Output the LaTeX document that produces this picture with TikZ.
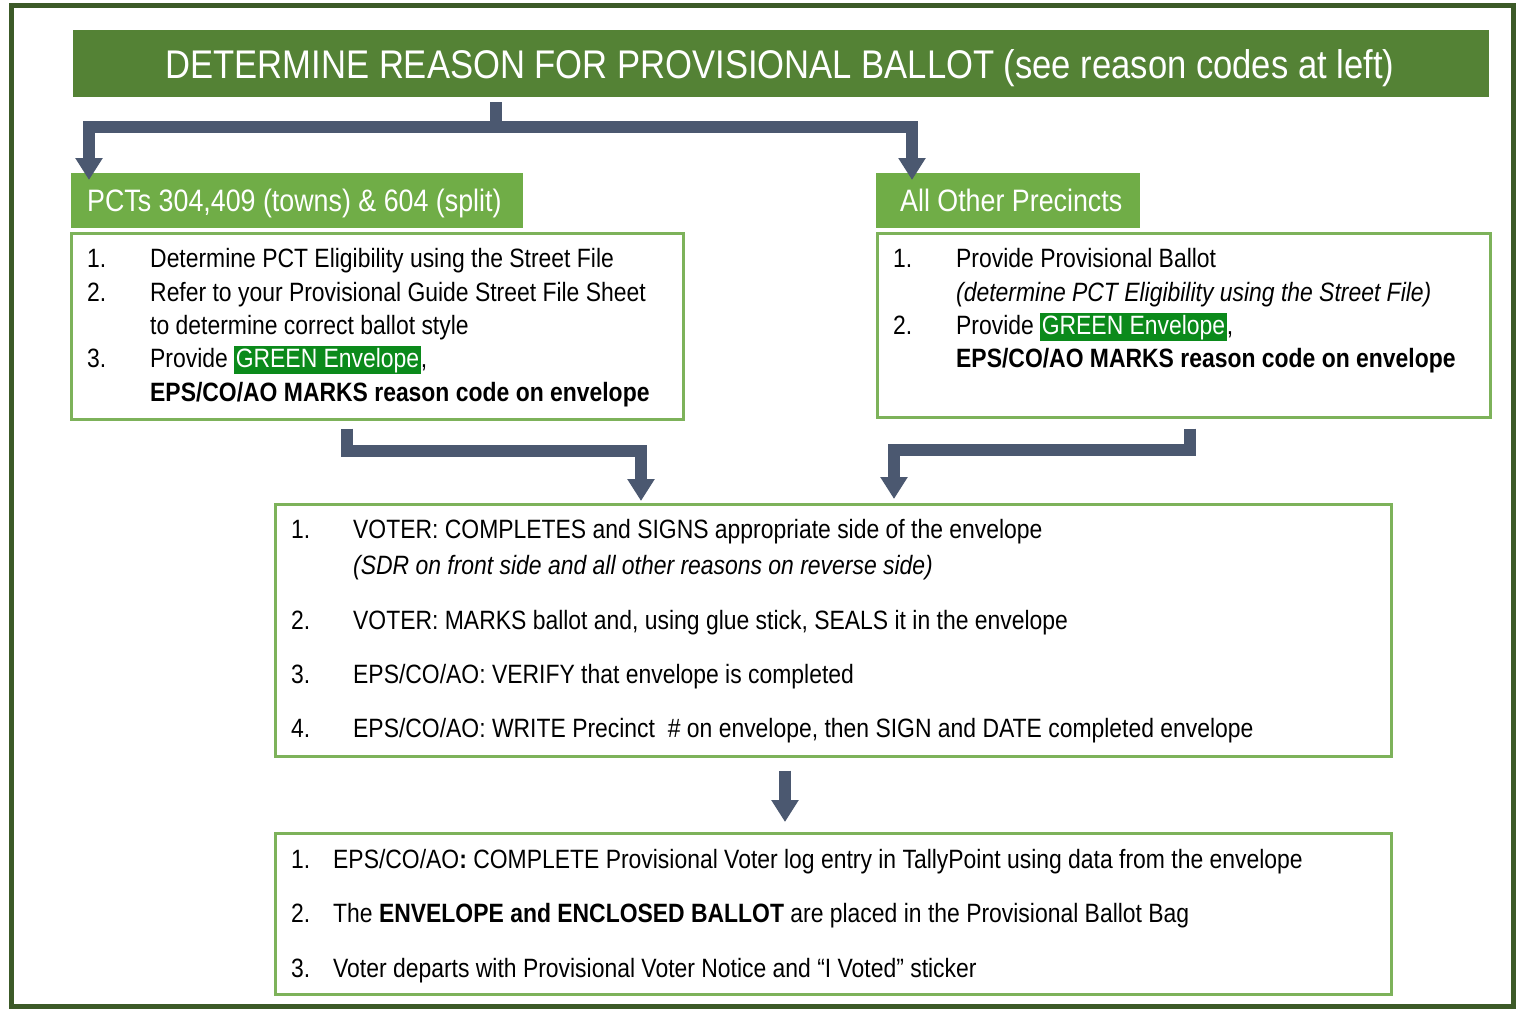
\documentclass[tikz,border=0pt]{standalone}
\usepackage{fontspec}
\setmainfont{Liberation Sans}[FakeStretch=0.865]
\usetikzlibrary{arrows.meta,calc}
\definecolor{titlegreen}{HTML}{548235}
\definecolor{hdrgreen}{HTML}{70AD47}
\definecolor{boxgreen}{HTML}{7DB25A}
\definecolor{framegreen}{HTML}{3C5A28}
\definecolor{arrowgray}{HTML}{4B5870}
\definecolor{hlgreen}{HTML}{0B8A1B}
\newcommand\bodyfnt{\fontsize{26.5}{32}\selectfont}
\newcommand\greenhl[1]{{\setlength\fboxsep{1.5pt}\colorbox{hlgreen}{\textcolor{white}{#1}}}}
\begin{document}
\begin{tikzpicture}[x=1pt,y=-1pt,
  titlebar/.style={fill=titlegreen, draw=none, anchor=north west, inner sep=0},
  hdr/.style={fill=hdrgreen, draw=none, anchor=north west, inner sep=0},
  cbox/.style={draw=boxgreen, line width=2.5pt, anchor=north west, inner sep=0},
  txt/.style={anchor=base west, inner sep=0, font=\bodyfnt},
  conn/.style={draw=arrowgray, line width=12pt, line join=miter, line cap=butt, -{Triangle[length=22pt,width=26pt]}}
]
\useasboundingbox[fill=white] (0,0) rectangle (1516,1009);
\draw[framegreen, line width=5pt] (11,5.5) rectangle (1513.5,1006);

% title
\node[titlebar, minimum width=1416pt, minimum height=67pt] (title) at (73,30) {};
\node[anchor=base, inner sep=0, text=white, font=\fontsize{40}{48}\selectfont] (titletext) at (780,78) {DETERMINE REASON FOR PROVISIONAL BALLOT (see reason codes at left)};

% headers
\node[hdr, minimum width=452pt, minimum height=55pt] (hL) at (71,173) {};
\node[anchor=base west, inner sep=0, text=white, font=\fontsize{31}{36}\selectfont] (hLt) at (87,211) {PCTs 304,409 (towns) \& 604 (split)};
\node[hdr, minimum width=264pt, minimum height=55pt] (hR) at (876,173) {};
\node[anchor=base west, inner sep=0, text=white, font=\fontsize{31}{36}\selectfont] (hRt) at (900,211) {All Other Precincts};

% left box
\node[cbox, minimum width=612pt, minimum height=186pt] (bL) at (70,232) {};
\node[txt] (l1n) at (87,267) {1.};
\node[txt] (l1t) at (150,267) {Determine PCT Eligibility using the Street File};
\node[txt] (l2n) at (87,301) {2.};
\node[txt] (l2t) at (150,301) {Refer to your Provisional Guide Street File Sheet};
\node[txt] (l2u) at (150,334) {to determine correct ballot style};
\node[txt] (l3n) at (87,367) {3.};
\node[txt] (l3t) at (150,367) {Provide \greenhl{GREEN Envelope},};
\node[txt] (l3u) at (150,401) {\textbf{EPS/CO/AO MARKS reason code on envelope}};

% right box
\node[cbox, minimum width=613pt, minimum height=184pt] (bR) at (876,232) {};
\node[txt] (r1n) at (893,267) {1.};
\node[txt] (r1t) at (956,267) {Provide Provisional Ballot};
\node[txt] (r1u) at (956,301) {\itshape (determine PCT Eligibility using the Street File)};
\node[txt] (r2n) at (893,334) {2.};
\node[txt] (r2t) at (956,334) {Provide \greenhl{GREEN Envelope},};
\node[txt] (r2u) at (956,367) {\textbf{EPS/CO/AO MARKS reason code on envelope}};

% middle box
\node[cbox, minimum width=1116pt, minimum height=252pt] (mid) at (274,503) {};
\node[txt] (m1n) at (291,538) {1.};
\node[txt] (m1t) at (353,538) {VOTER: COMPLETES and SIGNS appropriate side of the envelope};
\node[txt] (m1u) at (353,574) {\itshape (SDR on front side and all other reasons on reverse side)};
\node[txt] (m2n) at (291,629) {2.};
\node[txt] (m2t) at (353,629) {VOTER: MARKS ballot and, using glue stick, SEALS it in the envelope};
\node[txt] (m3n) at (291,683) {3.};
\node[txt] (m3t) at (353,683) {EPS/CO/AO: VERIFY that envelope is completed};
\node[txt] (m4n) at (291,737) {4.};
\node[txt] (m4t) at (353,737) {EPS/CO/AO: WRITE Precinct\ \ \# on envelope, then SIGN and DATE completed envelope};

% bottom box
\node[cbox, minimum width=1116pt, minimum height=161pt] (bot) at (274,832) {};
\node[txt] (n1n) at (291,868) {1.};
\node[txt] (n1t) at (333,868) {EPS/CO/AO\textbf{:} COMPLETE Provisional Voter log entry in TallyPoint using data from the envelope};
\node[txt] (n2n) at (291,922) {2.};
\node[txt] (n2t) at (333,922) {The \textbf{ENVELOPE and ENCLOSED BALLOT} are placed in the Provisional Ballot Bag};
\node[txt] (n3n) at (291,977) {3.};
\node[txt] (n3t) at (333,977) {Voter departs with Provisional Voter Notice and “I Voted” sticker};

% connectors
\draw[conn] ($(title.south west)+(423,5)$) -- ++(0,25) -| ($(hL.north west)+(18,7)$);
\draw[conn] ($(title.south west)+(423,5)$) -- ++(0,25) -| ($(hR.north west)+(36,7)$);
\draw[conn] ($(bL.south west)+(277,8)$) -- ++(0,22) -| ($(mid.north west)+(367,-2)$);
\draw[conn] ($(bR.south west)+(314,10)$) -- ++(0,21) -| ($(mid.north west)+(620,-4)$);
\draw[conn] ($(mid.south west)+(511,13)$) -- ($(bot.north west)+(511,-10)$);
\end{tikzpicture}
\end{document}
